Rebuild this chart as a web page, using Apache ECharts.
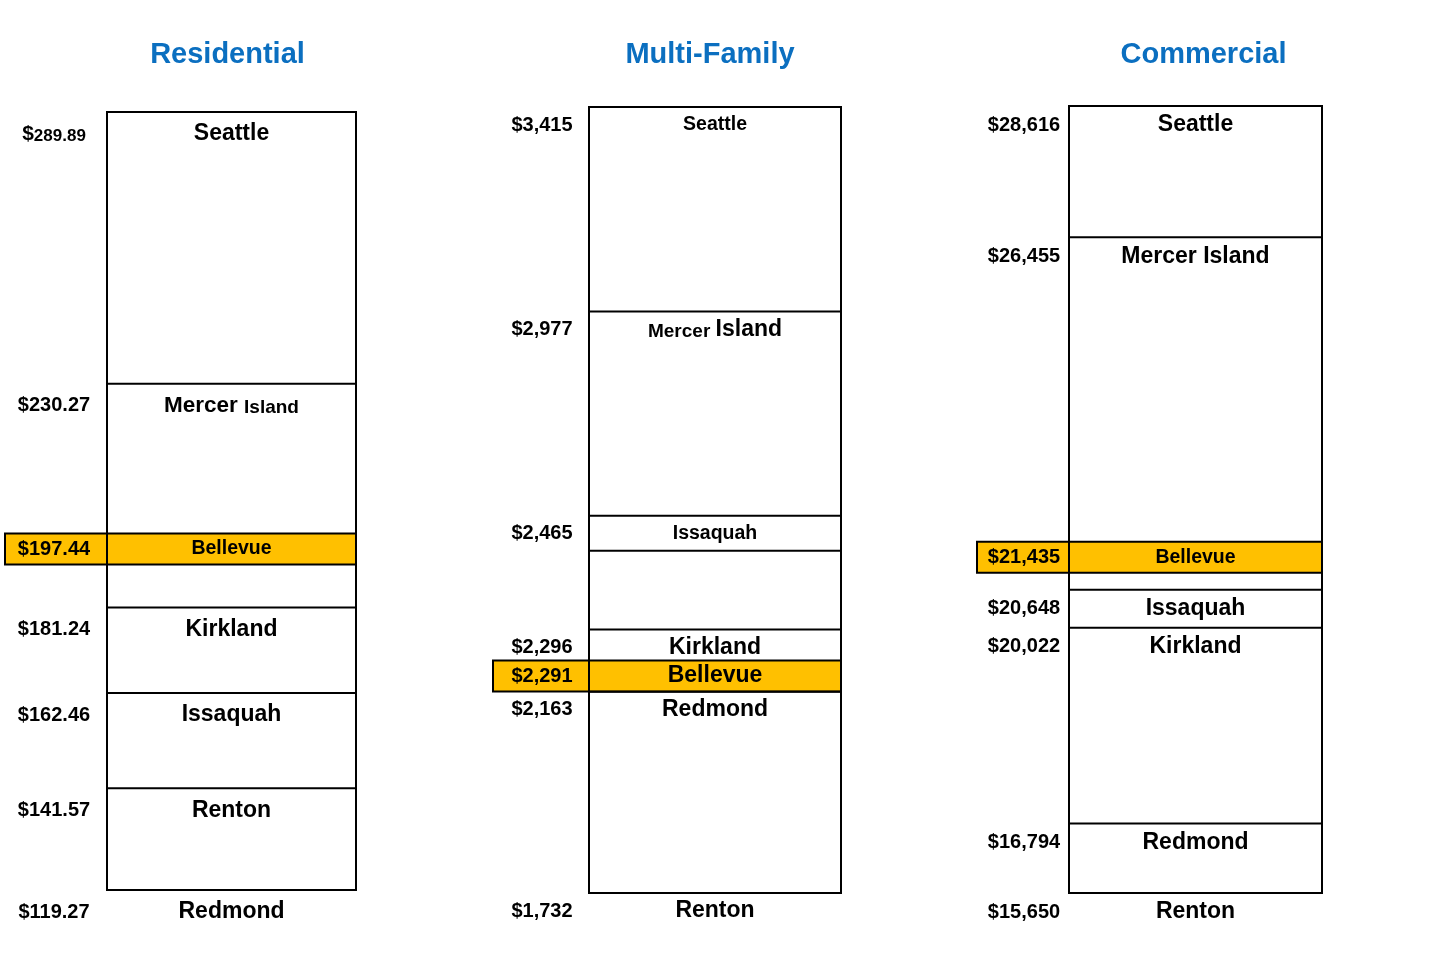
<!DOCTYPE html>
<html>
<head>
<meta charset="utf-8">
<script src="https://cdn.jsdelivr.net/npm/echarts@6/dist/echarts.min.js"></script>
<style>
  html, body { margin: 0; padding: 0; background: #fff; }
  #chart { width: 1440px; height: 973px; }
</style>
</head>
<body>
<div id="chart"></div>
<script>
// ---- data ----
const panelTitles = ['Residential', 'Multi-Family', 'Commercial'];
const highlightCity = 'Bellevue';

const residentialCities = ['Seattle', 'Mercer Island', 'Bellevue', 'Kirkland', 'Issaquah', 'Renton', 'Redmond'];
const residentialValues = [289.89, 230.27, 197.44, 181.24, 162.46, 141.57, 119.27];

const multiFamilyCities = ['Seattle', 'Mercer Island', 'Issaquah', 'Kirkland', 'Bellevue', 'Redmond', 'Renton'];
const multiFamilyValues = [3415, 2977, 2465, 2296, 2291, 2163, 1732];

const commercialCities = ['Seattle', 'Mercer Island', 'Bellevue', 'Issaquah', 'Kirkland', 'Redmond', 'Renton'];
const commercialValues = [28616, 26455, 21435, 20648, 20022, 16794, 15650];

// ---- layout / style (kept separate from the data) ----
const FONT = '"Liberation Sans", Arial, Helvetica, sans-serif';
const BAND = 31;          // height of a label band below its line
const BAND_ABOVE = 35;    // height of a label band drawn above its line

const panels = [
  { title: panelTitles[0], cities: residentialCities, values: residentialValues,
    fmt: v => v.toFixed(2),
    box: { left: 107, top: 112, width: 249, height: 778 },
    titleDx: -4, valueDx: 53, hlLeft: 102, labelDy: 22,
    labelAbove: [],
    cityStyle: { 'Bellevue': { size: 19.5 }, 'Mercer Island': { split: [22.5, 19] } },
    valueStyle: { 0: { split: [21, 17] } } },
  { title: panelTitles[1], cities: multiFamilyCities, values: multiFamilyValues,
    fmt: v => v.toLocaleString('en-US'),
    box: { left: 589, top: 107, width: 252, height: 786 },
    titleDx: -5, valueDx: 47, hlLeft: 96, labelDy: 18,
    labelAbove: ['Issaquah'],
    cityStyle: { 'Seattle': { size: 19.5 }, 'Issaquah': { size: 19.5 }, 'Bellevue': { size: 23 },
                 'Mercer Island': { split: [19, 23] } },
    valueStyle: {} },
  { title: panelTitles[2], cities: commercialCities, values: commercialValues,
    fmt: v => v.toLocaleString('en-US'),
    box: { left: 1069, top: 106, width: 253, height: 787 },
    titleDx: 8, valueDx: 45, hlLeft: 92, labelDy: 19,
    labelAbove: [],
    cityStyle: { 'Bellevue': { size: 19.5 } },
    valueStyle: {} }
];

function computeLayout(p, api) {
  let prevBottom = -Infinity;
  return p.values.map((v, j) => {
    const y = api.coord([0, v])[1];
    if (p.labelAbove.indexOf(p.cities[j]) >= 0) {
      prevBottom = y;
      return { lineY: y, top: y - BAND_ABOVE, bottom: y, above: true };
    }
    const top = Math.max(y, prevBottom);
    prevBottom = top + BAND;
    return { lineY: top, top: top, bottom: top + BAND, above: false };
  });
}

function richText(text, x, y, sizes) {
  return { type: 'text', style: {
    text: text, x: x, y: y, align: 'center', verticalAlign: 'middle',
    rich: {
      a: { fontSize: sizes[0], fontWeight: 'bold', fontFamily: FONT, fill: '#000', verticalAlign: 'bottom' },
      b: { fontSize: sizes[1], fontWeight: 'bold', fontFamily: FONT, fill: '#000', verticalAlign: 'bottom' }
    } } };
}

function cityText(p, name, x, y) {
  const st = p.cityStyle[name] || {};
  if (st.split) {
    const parts = name.split(' ');
    return richText('{a|' + parts[0] + ' }{b|' + parts.slice(1).join(' ') + '}', x, y, st.split);
  }
  const size = st.size || 23;
  return { type: 'text', style: {
    text: name, x: x, y: y, align: 'center', verticalAlign: 'middle',
    font: 'bold ' + size + 'px ' + FONT, fill: '#000' } };
}

function valueText(p, idx, x, y) {
  const st = p.valueStyle[idx] || {};
  const s = p.fmt(p.values[idx]);
  if (st.split) {
    return richText('{a|$}{b|' + s + '}', x, y, st.split);
  }
  return { type: 'text', style: {
    text: '$' + s, x: x, y: y, align: 'center', verticalAlign: 'middle',
    font: 'bold 20px ' + FONT, fill: '#000' } };
}

function makeRender(p) {
  return function (params, api) {
    const i = params.dataIndex;
    const cs = params.coordSys;
    const L = computeLayout(p, api)[i];
    const name = p.cities[i];
    const cx = cs.x + cs.width / 2;
    const vx = cs.x - p.valueDx;
    const children = [];
    const line = (yy) => ({ type: 'line', shape: { x1: cs.x, y1: yy, x2: cs.x + cs.width, y2: yy },
      style: { stroke: '#000', lineWidth: 2 } });

    if (name === highlightCity) {
      children.push({ type: 'rect', shape: { x: cs.x - p.hlLeft, y: L.top, width: cs.width + p.hlLeft, height: BAND },
        style: { fill: '#FFC000', stroke: '#000', lineWidth: 2 } });
      children.push({ type: 'line', shape: { x1: cs.x, y1: L.top, x2: cs.x, y2: L.top + BAND },
        style: { stroke: '#000', lineWidth: 2 } });
      const my = L.top + BAND / 2;
      children.push(cityText(p, name, cx, my));
      children.push(valueText(p, i, vx, my));
    } else if (L.above) {
      children.push(line(L.top));
      children.push(line(L.bottom));
      const my = (L.top + L.bottom) / 2;
      children.push(cityText(p, name, cx, my));
      children.push(valueText(p, i, vx, my));
    } else {
      children.push(line(L.lineY));
      const my = L.lineY + p.labelDy;
      children.push(cityText(p, name, cx, my));
      children.push(valueText(p, i, vx, my));
    }
    return { type: 'group', children: children };
  };
}

const grids = [], xAxes = [], yAxes = [], series = [], graphics = [];
panels.forEach((p, k) => {
  grids.push({ left: p.box.left, top: p.box.top, width: p.box.width, height: p.box.height,
    show: true, borderColor: '#000', borderWidth: 2, backgroundColor: 'transparent', containLabel: false });
  xAxes.push({ gridIndex: k, type: 'value', min: 0, max: 1, show: false });
  yAxes.push({ gridIndex: k, type: 'value', min: Math.min.apply(null, p.values),
    max: Math.max.apply(null, p.values), show: false });
  series.push({ type: 'custom', xAxisIndex: k, yAxisIndex: k, clip: false, silent: true,
    renderItem: makeRender(p), data: p.values.map((v, j) => [0.5, v, j]), z: 5 });
  graphics.push({ type: 'text', x: p.box.left + p.box.width / 2 + p.titleDx, y: 55,
    style: { text: p.title, align: 'center', verticalAlign: 'middle',
      font: 'bold 29px ' + FONT, fill: '#0B6FC0' } });
});

const chart = echarts.init(document.getElementById('chart'), null, { renderer: 'canvas' });
chart.setOption({
  backgroundColor: '#fff',
  animation: false,
  grid: grids,
  xAxis: xAxes,
  yAxis: yAxes,
  series: series,
  graphic: graphics
});
</script>
</body>
</html>
